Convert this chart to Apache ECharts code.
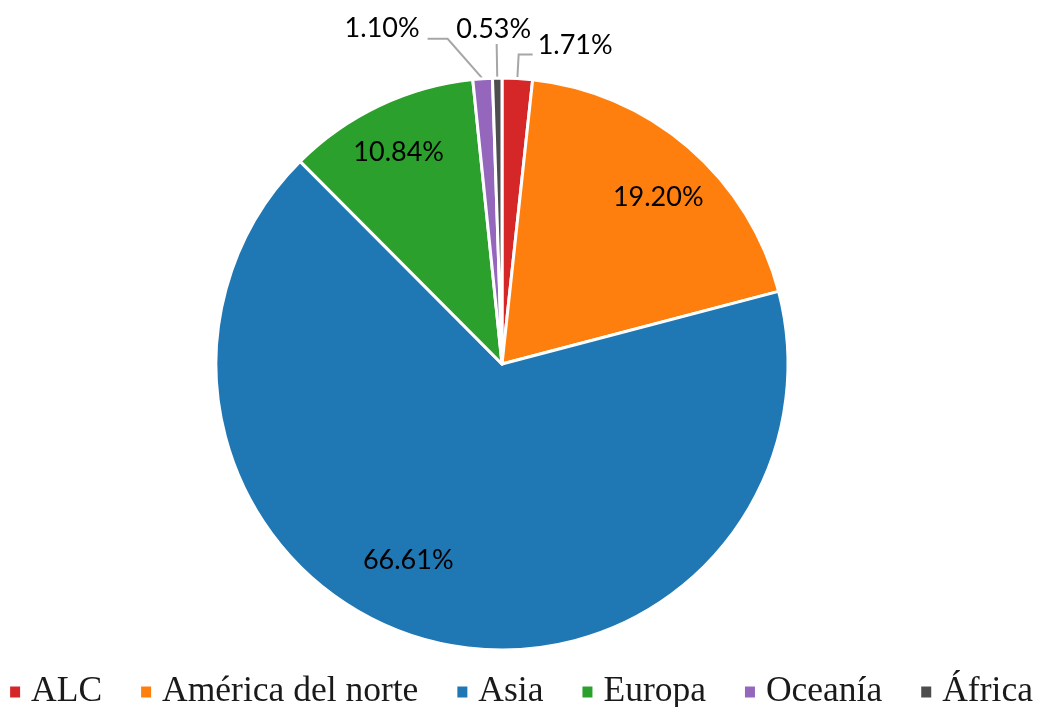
<!DOCTYPE html>
<html>
<head>
<meta charset="utf-8">
<script src="https://cdn.jsdelivr.net/npm/echarts@6/dist/echarts.min.js"></script>
<style>
html,body{margin:0;padding:0;background:#fff;}
#chart{width:1041px;height:707px;}
</style>
</head>
<body>
<div id="chart"></div>
<script>
const categories = ['ALC', 'América del norte', 'Asia', 'Europa', 'Oceanía', 'África'];
const values = [1.71, 19.20, 66.61, 10.84, 1.10, 0.53];
const colors = ['#d62728', '#ff7f0e', '#1f77b4', '#2ca02c', '#9467bd', '#4d4d4d'];
const insideLabels = [false, true, true, true, false, false];

const chart = echarts.init(document.getElementById('chart'), null, {renderer: 'canvas'});

const R = 286;
const CENTER = [502, 364];

const mainData = categories.map((name, i) => ({
  name: name,
  value: values[i],
  itemStyle: {color: colors[i]},
  label: {show: !insideLabels[i]},
  labelLine: {show: !insideLabels[i]}
}));
// per-item leader lengths for the small outside labels
mainData[0].labelLine.length = 24; mainData[0].labelLine.length2 = 14;
mainData[4].labelLine.length = 40; mainData[4].labelLine.length2 = 20;
mainData[5].labelLine.length = 34; mainData[5].labelLine.length2 = 0;

const overlayData = categories.map((name, i) => ({
  name: name,
  value: values[i],
  label: {show: insideLabels[i]}
}));

const labelFont = {fontFamily: 'Lato', fontSize: 27, color: '#000'};

chart.setOption({
  backgroundColor: '#fff',
  animation: false,
  color: colors,
  legend: {
    data: categories,
    left: 'center',
    top: 669,
    icon: 'rect',
    itemWidth: 12,
    itemHeight: 13,
    itemGap: 37,
    textStyle: {fontFamily: 'Liberation Serif', fontSize: 35.5, color: '#1a1a1a', padding: [0, 0, 0, 5]}
  },
  series: [
    {
      type: 'pie',
      center: CENTER,
      radius: [0, R],
      startAngle: 90,
      clockwise: true,
      avoidLabelOverlap: false,
      silent: true,
      itemStyle: {borderColor: '#fff', borderWidth: 3},
      label: Object.assign({position: 'outside', formatter: p => p.value.toFixed(2) + '%', distanceToLabelLine: 5}, labelFont),
      labelLine: {lineStyle: {color: '#a6a6a6', width: 2}},
      labelLayout: function (params) {
        const pts = params.labelLinePoints;
        if (!pts) return {};
        if (params.dataIndex === 5) {
          return {
            x: pts[2][0] - 3,
            y: pts[2][1] - 1,
            align: 'center',
            verticalAlign: 'bottom',
            labelLinePoints: pts
          };
        }
        if (params.dataIndex === 4) {
          // slanted leader: elbow pulled toward the label side
          const p1 = pts[0];
          const p2 = [p1[0] - 35, pts[1][1]];
          const p3 = [p2[0] - 20, pts[1][1]];
          return {
            x: p3[0] - 8,
            y: p3[1] + 3,
            align: 'right',
            verticalAlign: 'bottom',
            labelLinePoints: [p1, p2, p3]
          };
        }
        return {verticalAlign: 'bottom', dy: 4};
      },
      data: mainData
    },
    {
      type: 'pie',
      center: CENTER,
      radius: [R * 0.6, R],
      startAngle: 90,
      clockwise: true,
      silent: true,
      avoidLabelOverlap: false,
      itemStyle: {color: 'rgba(0,0,0,0)', borderWidth: 0},
      emphasis: {disabled: true},
      label: Object.assign({position: 'inside', formatter: p => p.value.toFixed(2) + '%'}, labelFont),
      labelLine: {show: false},
      labelLayout: function (params) {
        if (params.dataIndex === 2) return {dx: -33, dy: -27};
        if (params.dataIndex === 1) return {dx: 5, dy: 9};
        if (params.dataIndex === 3) return {dx: -4, dy: -2};
        return {};
      },
      data: overlayData
    }
  ]
});
</script>
</body>
</html>
